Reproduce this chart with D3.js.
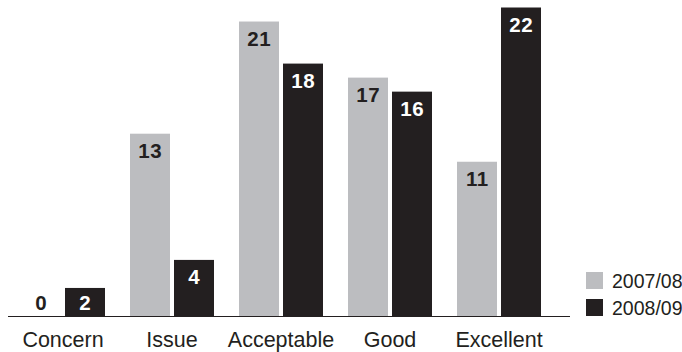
<!DOCTYPE html>
<html>
<head>
<meta charset="utf-8">
<script src="https://cdn.jsdelivr.net/npm/d3@7"></script>
<style>
  html, body { margin: 0; padding: 0; background: #fff; }
  svg { display: block; font-family: "Liberation Sans", Arial, Helvetica, sans-serif; }
</style>
</head>
<body>
<svg id="chart" width="682" height="352"></svg>
<script>
const categories = ["Concern", "Issue", "Acceptable", "Good", "Excellent"];
const seriesNames = ["2007/08", "2008/09"];
const values2007 = [0, 13, 21, 17, 11];
const values2008 = [2, 4, 18, 16, 22];
const seriesColors = ["#bcbdc0", "#231f20"];
const labelColors = ["#231f20", "#ffffff"];

const svg = d3.select("#chart");
const baseY = 316;

const x0 = d3.scaleBand().domain(categories).range([21, 541]).paddingInner(25 / 109).paddingOuter(0);
const x1 = d3.scaleBand().domain(seriesNames).range([0, x0.bandwidth()]).paddingInner(4 / 44).paddingOuter(0);
const y = d3.scaleLinear().domain([0, 22]).range([baseY, 7.5]);

const data = categories.map((c, i) => ({
  cat: c,
  vals: [
    { s: seriesNames[0], v: values2007[i], k: 0 },
    { s: seriesNames[1], v: values2008[i], k: 1 }
  ]
}));

const g = svg.append("g").selectAll("g").data(data).join("g")
  .attr("transform", d => `translate(${x0(d.cat)},0)`);

g.selectAll("rect").data(d => d.vals).join("rect")
  .attr("x", d => x1(d.s))
  .attr("y", d => y(d.v))
  .attr("width", x1.bandwidth())
  .attr("height", d => baseY - y(d.v))
  .attr("fill", d => seriesColors[d.k]);

g.selectAll("text.val").data(d => d.vals).join("text")
  .attr("class", "val")
  .attr("x", d => x1(d.s) + x1.bandwidth() / 2 + 0.25)
  .attr("y", d => Math.min(y(d.v) + 24, baseY - 6))
  .attr("text-anchor", "middle")
  .attr("font-size", 20.5)
  .attr("font-weight", "bold")
  .attr("letter-spacing", 0.5)
  .attr("fill", d => d.v === 0 ? "#231f20" : labelColors[d.k])
  .text(d => d.v);

// axis line
svg.append("line")
  .attr("x1", 8).attr("x2", 570)
  .attr("y1", baseY + 0.5).attr("y2", baseY + 0.5)
  .attr("stroke", "#231f20").attr("stroke-width", 1.2);

// category labels via axis
const axis = d3.axisBottom(x0).tickSize(0).tickPadding(0);
const ax = svg.append("g").attr("transform", `translate(0,${baseY})`).call(axis);
ax.select(".domain").remove();
ax.selectAll("text")
  .attr("font-size", 21.5)
  .attr("font-family", "'Liberation Sans', Arial, Helvetica, sans-serif")
  .attr("fill", "#231f20")
  .attr("dy", null)
  .attr("y", 31);

// legend
const lg = svg.append("g").selectAll("g").data(seriesNames).join("g")
  .attr("transform", (d, i) => `translate(586,${272 + i * 27})`);
lg.append("rect").attr("width", 17).attr("height", 17).attr("fill", (d, i) => seriesColors[i]);
lg.append("text").attr("x", 26).attr("y", 16)
  .attr("font-size", 19.5).attr("fill", "#231f20").text(d => d);
</script>
</body>
</html>
